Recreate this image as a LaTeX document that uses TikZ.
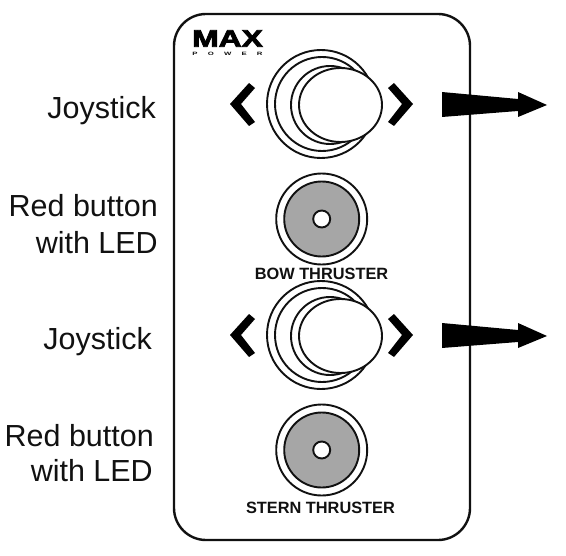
\documentclass[tikz,border=0pt]{standalone}
\usepackage{fontspec}
\setmainfont{Liberation Sans}
\newfontfamily\heavyfont[FakeBold=3,BoldFont={Liberation Sans Bold}]{Liberation Sans Bold}
\definecolor{ink}{HTML}{111111}
\definecolor{btn}{HTML}{A6A6A6}
\tikzset{
  px/.style={x=1bp,y=-1bp},
  lab/.style={anchor=base east,inner sep=0pt,text=ink,font=\fontsize{30.6}{32}\selectfont},
  captext/.style={inner sep=0pt,text=ink,font=\bfseries\fontsize{16.4}{17}\selectfont},
  ring/.style={draw=ink,line width=1.9bp,fill=white},
  solidp/.style={fill=black,draw=none},
  panel/.style={draw=ink,line width=2.4bp,rounded corners=32bp,fill=white}
}
\newcommand{\joystick}[1]{%
  \begin{scope}[shift={(0,#1)}]
    \draw[ring] (321,104) circle[radius=54];
    \draw[ring] (322,104) circle[radius=47];
    \draw[ring] (330,105) circle[radius=39];
    \draw[ring] (340.5,105) ellipse[x radius=41.5,y radius=37];
    \fill[solidp] (249,83) -- (255,88) -- (241,104) -- (255,122) -- (249,126) -- (230,104) -- cycle;
    \fill[solidp] (394,83) -- (388,88) -- (402,104) -- (388,122) -- (394,126) -- (413,104) -- cycle;
    \fill[solidp] (442,92) -- (518,99) -- (518,92) -- (547,105) -- (518,117) -- (518,111) -- (442,117) -- cycle;
  \end{scope}}
\newcommand{\thrbutton}[1]{%
  \begin{scope}[shift={(0,#1)}]
    \draw[ring] (321.7,219) circle[radius=45.5];
    \draw[ring,fill=btn] (321.7,219) circle[radius=37.5];
    \draw[ring] (321.7,219) circle[radius=8.5];
  \end{scope}}
\begin{document}
\begin{tikzpicture}[px]
  \useasboundingbox (0,0) rectangle (566,556);
  \draw[panel] (174,14) rectangle (470,540);
  \joystick{0}
  \thrbutton{0}
  \joystick{231}
  \thrbutton{231}
  \node[lab] (j1) at (156,119) {Joystick};
  \node[lab] (r1a) at (158,217) {Red button};
  \node[lab] (r1b) at (158,253) {with LED};
  \node[lab] (j2) at (152,349) {Joystick};
  \node[lab] (r2a) at (154,446) {Red button};
  \node[lab] (r2b) at (153,481) {with LED};
  \node[captext] (bow) at (321.5,273.5) {BOW THRUSTER};
  \node[captext] (stern) at (320.5,508) {STERN THRUSTER};
  \node[inner sep=0pt,text=black,font=\heavyfont\fontsize{24}{24}\selectfont,xscale=1.33] (max) at (227.5,38.5) {MAX};
  \node[inner sep=0pt,text=ink,font=\bfseries\fontsize{6}{6}\selectfont,xscale=1.3,yscale=0.8] (power) at (227.5,53.5) {\makebox[54bp][s]{P\hfill O\hfill W\hfill E\hfill R}};
\end{tikzpicture}
\end{document}
